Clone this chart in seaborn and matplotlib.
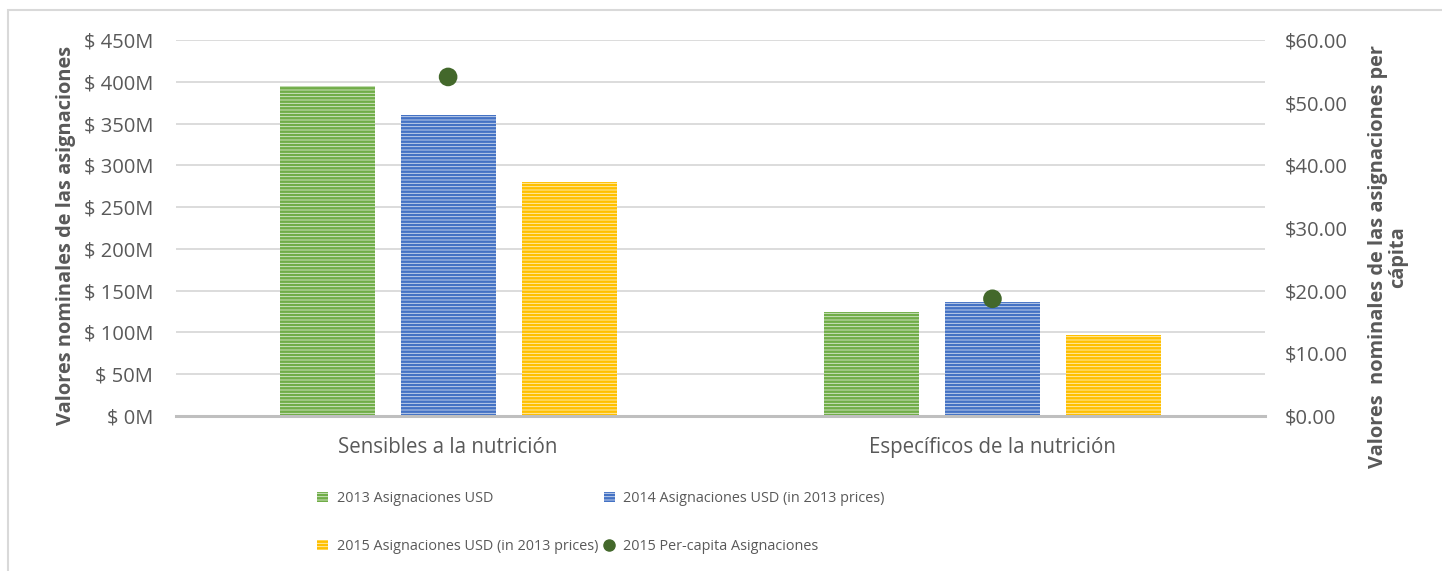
import pandas as pd
import matplotlib.pyplot as plt
import seaborn as sns
from matplotlib.patches import Rectangle
from matplotlib.ticker import FuncFormatter, MultipleLocator

# Data
categories = ['Sensibles a la nutrición', 'Específicos de la nutrición']
series = ['2013 Asignaciones USD',
          '2014 Asignaciones USD (in 2013 prices)',
          '2015 Asignaciones USD (in 2013 prices)']
values_2013 = [395, 125]
values_2014 = [360, 136]
values_2015 = [280, 97]
per_capita_2015 = [54.1, 18.7]
dot_label = '2015 Per-capita Asignaciones'

colors = ['#70ad47', '#4472c4', '#ffc000']
light = ['#dcead2', '#d3ddf0', '#fff0c2']
dot_color = '#43682b'
text_color = '#595959'

df = pd.DataFrame({
    'categoria': categories * 3,
    'serie': [series[0]] * 2 + [series[1]] * 2 + [series[2]] * 2,
    'valor': values_2013 + values_2014 + values_2015,
})

sns.set_style('white')
plt.rcParams['font.family'] = ['Open Sans', 'DejaVu Sans']
plt.rcParams['hatch.linewidth'] = 1.8

fig = plt.figure(figsize=(14.42, 5.71), dpi=100)
ax = fig.add_axes([0.122, 0.2715, 0.755, 0.6585])

sns.barplot(data=df, x='categoria', y='valor', hue='serie', hue_order=series,
            palette=colors, width=0.667, gap=0.215, ax=ax, legend=False)

# striped fill like the original
for i, s in enumerate(series):
    for bar in ax.containers[i]:
        bar.set_facecolor(light[i])
        bar.set_edgecolor(colors[i])
        bar.set_hatch('-----')
        bar.set_linewidth(0)

ax.set_ylim(0, 450)
ax.yaxis.set_major_locator(MultipleLocator(50))
ax.yaxis.set_major_formatter(FuncFormatter(lambda v, p: f'$ {v:.0f}M'))
ax.grid(axis='y', color='#d9d9d9', linewidth=1.3)
ax.set_axisbelow(True)
for side in ['top', 'right', 'left']:
    ax.spines[side].set_visible(False)
ax.spines['bottom'].set_color('#bfbfbf')
ax.spines['bottom'].set_linewidth(2.2)
ax.tick_params(axis='both', length=0, colors=text_color)
ax.tick_params(axis='y', pad=16.5, labelsize=14.5)
ax.tick_params(axis='x', pad=15, labelsize=14.8)
ax.set_xlabel('')
ax.set_ylabel('Valores nominales de las asignaciones', fontsize=14.4,
              fontweight='bold', color=text_color, va='center')
ax.yaxis.set_label_coords(-0.101, 0.479)

ax2 = ax.twinx()
sns.scatterplot(x=[0, 1], y=per_capita_2015, ax=ax2, color=dot_color, s=180,
                edgecolor='none', zorder=5, legend=False)
ax2.set_ylim(0, 60)
ax2.yaxis.set_major_locator(MultipleLocator(10))
ax2.yaxis.set_major_formatter(FuncFormatter(lambda v, p: f'${v:.2f}'))
for side in ['top', 'right', 'left', 'bottom']:
    ax2.spines[side].set_visible(False)
ax2.tick_params(axis='y', length=0, labelsize=14.5, colors=text_color, pad=14.4)
ax2.set_ylabel('Valores  nominales de las asignaciones per\ncápita', fontsize=14.4,
               fontweight='bold', color=text_color, linespacing=1.0, va='center')
ax2.yaxis.set_label_coords(1.113, 0.423)
ax.set_xlim(-0.5, 1.5)

# legend below the chart
bars = [ax.containers[i][0] for i in range(3)]
dot = plt.Line2D([], [], marker='o', color=dot_color, linestyle='none', markersize=8)
handles = [bars[0], bars[2], bars[1], dot]
labels = [series[0], series[2], series[1], dot_label]
fig.legend(handles, labels, loc='center left', bbox_to_anchor=(0.211, 0.085),
           ncol=2, frameon=False, fontsize=10.4, labelcolor=text_color,
           handlelength=0.75, handleheight=0.75, handletextpad=0.6,
           columnspacing=0.4, labelspacing=2.3)

# light border round the chart
fig.patches.append(Rectangle((8 / 1442, -0.1), 1.2, 1 - 10 / 571 + 0.1,
                             transform=fig.transFigure, fill=False,
                             edgecolor='#d9d9d9', linewidth=1.5))

fig.savefig('out.png', dpi=100)
